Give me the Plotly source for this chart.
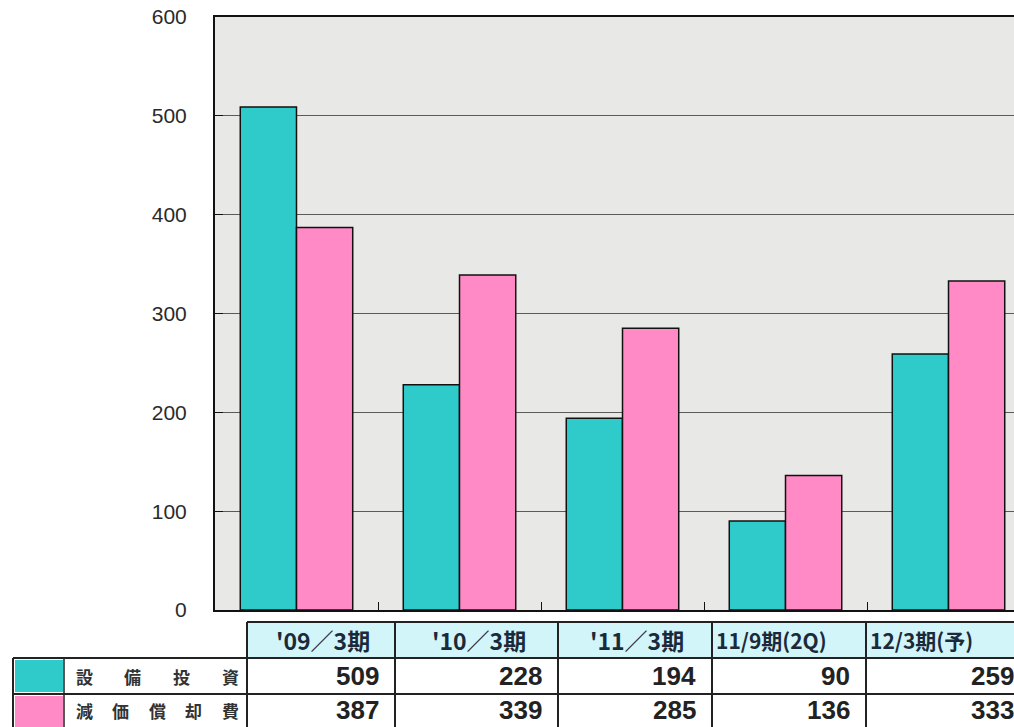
import plotly.graph_objects as go

periods = ["'09/3期", "'10/3期", "'11/3期", "11/9期(2Q)", "12/3期(予)"]
capex = [509, 228, 194, 90, 259]
depreciation = [387, 339, 285, 136, 333]
capex_name = "設備投資"
dep_name = "減価償却費"
y_ticks = [0, 100, 200, 300, 400, 500, 600]

W, H = 1014, 727
L, T, B = 215, 17, 117
PW, PH = W - L, H - T - B

TEAL = "#2fcaca"
PINK = "#ff8ac6"
JP = "Noto Sans CJK JP"
NUM = "Liberation Sans"


def px(x):
    return (x - L) / PW


def py(y):
    return (H - B - y) / PH


fig = go.Figure()

fig.add_trace(go.Bar(
    x=periods, y=capex, name=capex_name,
    marker=dict(color=TEAL, line=dict(color="#111", width=1.5))
))
fig.add_trace(go.Bar(
    x=periods, y=depreciation, name=dep_name,
    marker=dict(color=PINK, line=dict(color="#111", width=1.5))
))

shapes = []
annotations = []


def line(x0, y0, x1, y1, w=2):
    shapes.append(dict(type="line", xref="paper", yref="paper",
                       x0=px(x0), y0=py(y0), x1=px(x1), y1=py(y1),
                       line=dict(color="#222", width=w)))


def rect(x0, y0, x1, y1, fill):
    shapes.append(dict(type="rect", xref="paper", yref="paper",
                       x0=px(x0), y0=py(y0), x1=px(x1), y1=py(y1),
                       fillcolor=fill, line=dict(width=0), layer="below"))


# table under the plot
col_edges = [247, 395, 558, 712, 866, 1030]
head_top, head_bot, row1_bot, row2_bot = 622, 658, 694, 730

for i in range(len(periods)):
    rect(col_edges[i], head_top, col_edges[i + 1], head_bot, "#d2f5fa")

rect(15, head_bot + 2, 63, row1_bot - 2, TEAL)
rect(15, row1_bot + 2, 63, row2_bot, PINK)

line(col_edges[0], head_top, W, head_top)
line(13, head_bot, W, head_bot)
line(13, row1_bot, W, row1_bot)
line(13, head_bot, 13, row2_bot)
line(64, head_bot, 64, row2_bot, 1.5)
for x in col_edges[:-1]:
    line(x, head_top, x, row2_bot)

for i, p in enumerate(periods):
    small = not p.startswith("'")
    annotations.append(dict(
        text=f"<b>{p if small else p.replace('/', '／')}</b>",
        xref="paper", yref="paper", showarrow=False,
        x=px(col_edges[i] + 2) if small else px((col_edges[i] + col_edges[i + 1]) / 2 + 2),
        xanchor="left" if small else "center",
        y=py((head_top + head_bot) / 2), yanchor="middle",
        font=dict(family=JP, size=21 if small else 23, color="#1a2a3a")
    ))

for vals, yc in [(capex, 676), (depreciation, 710)]:
    for i, v in enumerate(vals):
        annotations.append(dict(
            text=f"<b>{v}</b>", xref="paper", yref="paper", showarrow=False,
            x=px(col_edges[i + 1] - 14), xanchor="right",
            y=py(yc), yanchor="middle",
            font=dict(family=NUM, size=26, color="#222")
        ))

for name, top, bot in [(capex_name, head_bot, row1_bot), (dep_name, row1_bot, 726)]:
    n = len(name)
    x0, x1 = 84, 230
    for k, ch in enumerate(name):
        xc = x0 + (x1 - x0) * k / (n - 1)
        annotations.append(dict(
            text=f"<b>{ch}</b>", xref="paper", yref="paper", showarrow=False,
            x=px(xc), xanchor="center", y=py((top + bot) / 2), yanchor="middle",
            font=dict(family=JP, size=17, color="#333")
        ))

fig.update_layout(
    width=W, height=H,
    margin=dict(l=L, r=0, t=T, b=B),
    paper_bgcolor="white",
    plot_bgcolor="#e8e8e6",
    barmode="group",
    bargap=0.31,
    bargroupgap=0,
    showlegend=False,
    shapes=shapes,
    annotations=annotations,
)

fig.update_xaxes(
    type="category",
    range=[-0.5, -0.5 + PW / 163],
    showticklabels=False,
    ticks="inside", tickson="boundaries", ticklen=8, tickcolor="#111",
    showline=True, linecolor="#111", linewidth=2, mirror=True,
    showgrid=False,
)

fig.update_yaxes(
    range=[0, 600],
    tickvals=y_ticks,
    ticks="inside", ticklen=8, tickcolor="#111",
    ticklabelstandoff=22,
    tickfont=dict(family=NUM, size=21, color="#2a2a2a"),
    showline=True, linecolor="#111", linewidth=2,
    showgrid=True, gridcolor="#5a5a5a", gridwidth=1,
    zeroline=False,
)

fig.write_html(
    "out.html",
    config={"displayModeBar": False},
    post_script="document.body.style.margin='0';document.body.style.overflow='hidden';",
)
